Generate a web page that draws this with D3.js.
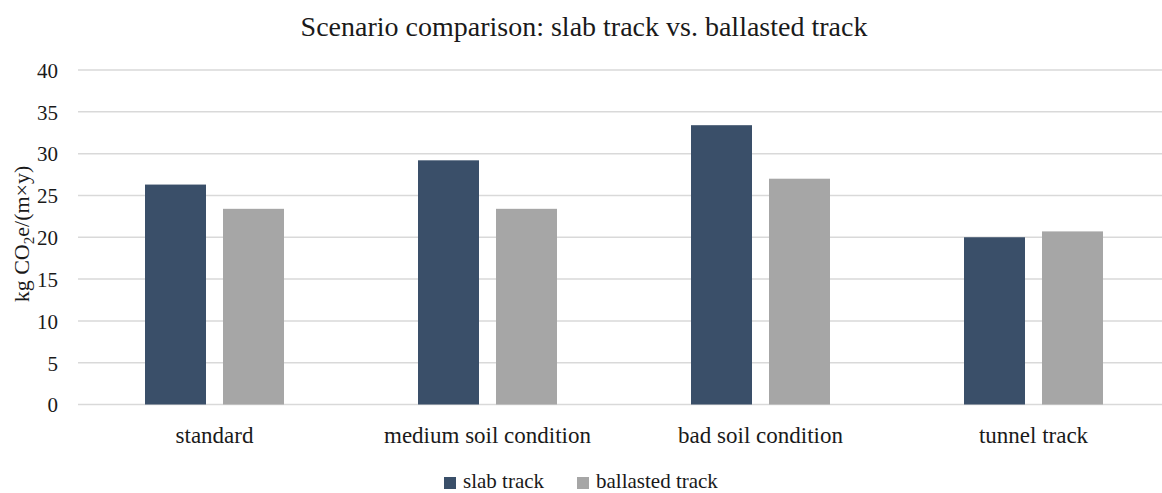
<!DOCTYPE html>
<html>
<head>
<meta charset="utf-8">
<script src="https://cdn.jsdelivr.net/npm/d3@7"></script>
<style>
  html, body { margin: 0; padding: 0; background: #ffffff; }
  svg { display: block; }
  text { font-family: "Liberation Serif", "Times New Roman", serif; fill: #1a1a1a; }
</style>
</head>
<body>
<svg id="chart" width="1162" height="493"></svg>
<script>
// Scenario categories and emissions per series (kg CO2e per metre and year)
const categories = ["standard", "medium soil condition", "bad soil condition", "tunnel track"];
const seriesNames = ["slab track", "ballasted track"];
const slabTrack = [26.3, 29.2, 33.4, 20.0];
const ballastedTrack = [23.4, 23.4, 27.0, 20.7];
const yTicks = [0, 5, 10, 15, 20, 25, 30, 35, 40];

const colors = { "slab track": "#3a4f69", "ballasted track": "#a6a6a6" };

const rows = categories.map((c, i) => ({
  category: c,
  values: [
    { series: "slab track", value: slabTrack[i] },
    { series: "ballasted track", value: ballastedTrack[i] }
  ]
}));

const svg = d3.select("#chart");
const plot = { left: 78, right: 1170, top: 70, bottom: 404.5 };

const x0 = d3.scaleBand().domain(categories).range([plot.left, plot.right]).padding(0);
const x1 = d3.scaleBand().domain(seriesNames).range([67, 206]).paddingInner(17 / 78).paddingOuter(0);
const y = d3.scaleLinear().domain([0, 40]).range([plot.bottom, plot.top]);

// Title
svg.append("text")
  .attr("x", 584).attr("y", 36)
  .attr("text-anchor", "middle")
  .style("font-size", "28px")
  .text("Scenario comparison: slab track vs. ballasted track");

// Horizontal gridlines
svg.append("g").selectAll("line")
  .data(yTicks)
  .join("line")
  .attr("x1", plot.left).attr("x2", plot.right)
  .attr("y1", d => y(d)).attr("y2", d => y(d))
  .attr("stroke", "#d9d9d9").attr("stroke-width", 1.5);

// Y axis tick labels
const yAxis = d3.axisLeft(y).tickValues(yTicks).tickSize(0).tickPadding(0);
const gy = svg.append("g").attr("transform", "translate(58,0)").call(yAxis);
gy.select(".domain").remove();
gy.selectAll("text")
  .attr("dy", "0.35em")
  .style("font-family", "'Liberation Serif', serif")
  .style("font-size", "21px")
  .attr("fill", "#1a1a1a");

// Y axis title with subscript
const yl = svg.append("text")
  .attr("transform", "translate(29,234) rotate(-90)")
  .attr("text-anchor", "middle")
  .style("font-size", "22px");
yl.append("tspan").text("kg CO");
yl.append("tspan").attr("dy", 5).style("font-size", "15px").text("2");
yl.append("tspan").attr("dy", -5).text("e/(m×y)");

// Bars
const groups = svg.append("g").selectAll("g")
  .data(rows)
  .join("g")
  .attr("transform", d => `translate(${x0(d.category)},0)`);

groups.selectAll("rect")
  .data(d => d.values)
  .join("rect")
  .attr("x", d => x1(d.series))
  .attr("width", x1.bandwidth())
  .attr("y", d => y(d.value))
  .attr("height", d => y(0) - y(d.value))
  .attr("fill", d => colors[d.series]);

// Category labels
const xAxis = d3.axisBottom(x0).tickSize(0).tickPadding(0);
const gx = svg.append("g").attr("transform", `translate(0,${plot.bottom})`).call(xAxis);
gx.select(".domain").remove();
gx.selectAll("text")
  .attr("y", 38)
  .attr("dy", 0)
  .style("font-family", "'Liberation Serif', serif")
  .style("font-size", "23px")
  .attr("fill", "#1a1a1a");

// Legend
const legendX = [444, 577];
const legend = svg.append("g").selectAll("g")
  .data(seriesNames)
  .join("g")
  .attr("transform", (d, i) => `translate(${legendX[i]},477)`);
legend.append("rect")
  .attr("width", 12).attr("height", 12)
  .attr("fill", d => colors[d]);
legend.append("text")
  .attr("x", 19).attr("y", 11)
  .style("font-size", "21px")
  .text(d => d);
</script>
</body>
</html>
